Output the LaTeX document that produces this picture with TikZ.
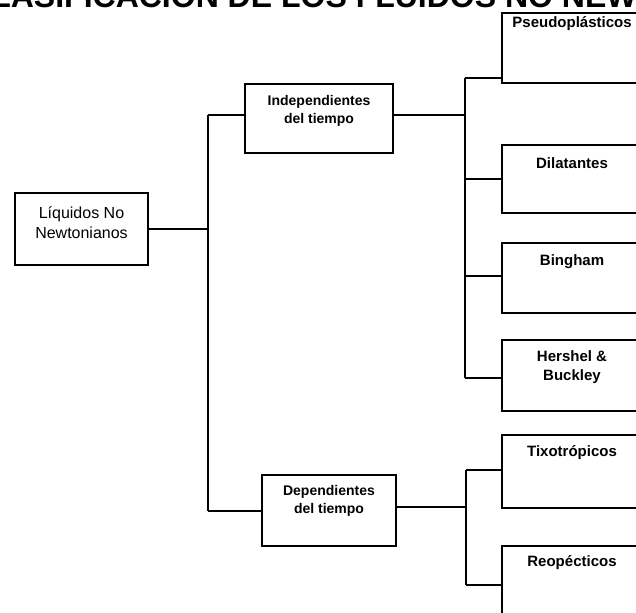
\documentclass[tikz,border=0pt]{standalone}
\usepackage{fontspec}
\setmainfont{Liberation Sans}
\begin{document}
\begin{tikzpicture}[x=1pt,y=-1pt,
  box/.style={draw,line width=1.5pt,rectangle,inner sep=0pt},
  rbox/.style={box,minimum width=140pt},
  lbl/.style={font=\bfseries\fontsize{15}{19}\selectfont,align=center,inner sep=0pt},
  mlbl/.style={font=\bfseries\fontsize{14}{18}\selectfont,align=center,inner sep=0pt},
  conn/.style={line width=1.2pt},
  ttl/.style={font=\bfseries\fontsize{32}{32}\selectfont,inner sep=0pt}]
\useasboundingbox (0,0) rectangle (636,612);
\clip (0,0) rectangle (636,612);
% title (cut off at top)
\node[ttl,anchor=base west] (title) at (-32,7.5) {CLASIFICACIÓN DE LOS FLUIDOS NO NEWTONIANOS};
% root
\node[box,minimum width=133pt,minimum height=72pt] (root) at (81.5,229) {};
\node[font=\fontsize{16}{20}\selectfont,align=center,inner sep=0pt] (rootT) at (81.5,223) {Líquidos No\\Newtonianos};
% second level
\node[box,minimum width=148pt,minimum height=69pt] (indep) at (319,118.5) {};
\node[mlbl] (indepT) at (319,111) {Independientes\\del tiempo};
\node[box,minimum width=134pt,minimum height=71pt] (dep) at (329,510.5) {};
\node[mlbl] (depT) at (329,501) {Dependientes\\del tiempo};
% right boxes
\node[rbox,minimum height=70pt] (pseudo) at (572,48) {};
\node[lbl] (pseudoT) at (572,24) {Pseudoplásticos};
\node[rbox,minimum height=68pt] (dilat) at (572,179) {};
\node[lbl] (dilatT) at (572,163) {Dilatantes};
\node[rbox,minimum height=70pt] (bing) at (572,278) {};
\node[lbl] (bingT) at (572,262) {Bingham};
\node[rbox,minimum height=71pt] (hersh) at (572,375.5) {};
\node[lbl] (hershT) at (572,367.5) {Hershel \&\\Buckley};
\node[rbox,minimum height=73pt] (tixo) at (572,471.5) {};
\node[lbl] (tixoT) at (572,453) {Tixotrópicos};
\node[rbox,minimum height=72pt] (reo) at (572,582) {};
\node[lbl] (reoT) at (572,563) {Reopécticos};
% trunk coordinates
\coordinate (t1) at (208,115);
\coordinate (t2) at (208,511);
\coordinate (a1) at (465,78);
\coordinate (a4) at (465,378);
\coordinate (b1) at (466,470);
\coordinate (b2) at (466,585);
% connectors
\draw[conn] (root.east) -- (root.east -| t1);
\draw[conn] (t1) -- (t2);
\draw[conn] (t1) -- (t1 -| indep.west);
\draw[conn] (t2) -- (t2 -| dep.west);
\draw[conn] (indep.east |- t1) -- (t1 -| a1);
\draw[conn] (a1) -- (a4);
\draw[conn] (a1) -- (a1 -| pseudo.west);
\draw[conn] (a1 |- dilat.west) -- (dilat.west);
\draw[conn] (a1 |- 0,276) -- (bing.west |- 0,276);
\draw[conn] (a4) -- (a4 -| hersh.west);
\draw[conn] (dep.east |- 0,507) -- (b1 |- 0,507);
\draw[conn] (b1) -- (b2);
\draw[conn] (b1) -- (b1 -| tixo.west);
\draw[conn] (b2) -- (b2 -| reo.west);
\end{tikzpicture}
\end{document}
